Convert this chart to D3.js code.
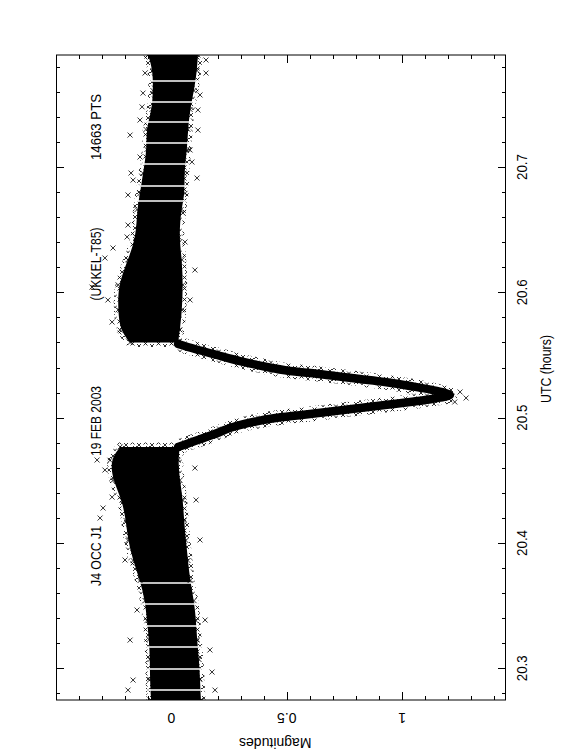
<!DOCTYPE html>
<html>
<head>
<meta charset="utf-8">
<script src="https://cdn.jsdelivr.net/npm/d3@7"></script>
<style>
  body { margin: 0; background: #fff; }
  text { font-family: "Liberation Sans", Arial, sans-serif; fill: #000; }
</style>
</head>
<body>
<svg id="lightcurve"></svg>
<script>
var W = 562, H = 756;
var frame = {left: 56, right: 506, top: 55, bottom: 700};

// chart text
var titleParts = ["J4 OCC J1", "19 FEB 2003", "(UKKEL-T85)", "14663 PTS"];
var utcLabel = "UTC (hours)", magLabel = "Magnitudes";
var utcTicks = [20.3, 20.4, 20.5, 20.6, 20.7];
var utcTickLabels = ["20.3", "20.4", "20.5", "20.6", "20.7"];
var magTicks = [0, 0.5, 1];
var magTickLabels = ["0", "0.5", "1"];
var utcDomain = [20.2747, 20.7894];
var magDomain = [-0.5, 1.45];

// dense cloud before the event: [utc, mag low edge, mag high edge]
var bandBefore = [
  [20.2747, -0.088, 0.128], [20.291, -0.093, 0.124], [20.307, -0.093, 0.120],
  [20.323, -0.097, 0.111], [20.338, -0.106, 0.107], [20.354, -0.114, 0.098],
  [20.370, -0.136, 0.081], [20.386, -0.166, 0.072], [20.402, -0.188, 0.063],
  [20.418, -0.197, 0.055], [20.434, -0.214, 0.050], [20.450, -0.253, 0.037],
  [20.466, -0.266, 0.029], [20.4766, -0.222, 0.037]
];
// dense cloud after the event
var bandAfter = [
  [20.560, -0.179, 0.029], [20.570, -0.223, 0.037], [20.586, -0.231, 0.046],
  [20.606, -0.231, 0.050], [20.626, -0.188, 0.046], [20.644, -0.153, 0.033],
  [20.666, -0.149, 0.042], [20.679, -0.136, 0.059], [20.695, -0.123, 0.055],
  [20.714, -0.106, 0.068], [20.730, -0.110, 0.072], [20.746, -0.084, 0.081],
  [20.761, -0.080, 0.098], [20.777, -0.080, 0.111], [20.7894, -0.101, 0.115]
];
// the occultation dip, ingress then egress: [utc, mag]
var dip = [
  [20.4766, 0.029], [20.4814, 0.102], [20.4861, 0.176], [20.4925, 0.267],
  [20.4973, 0.375], [20.5005, 0.484], [20.5029, 0.601], [20.5053, 0.709],
  [20.5077, 0.817], [20.5101, 0.925], [20.5125, 1.034], [20.5149, 1.129],
  [20.5181, 1.207],
  [20.5221, 1.129], [20.5253, 1.034], [20.5284, 0.925], [20.5308, 0.817],
  [20.5332, 0.709], [20.5356, 0.601], [20.5372, 0.514], [20.5404, 0.414],
  [20.5452, 0.297], [20.5500, 0.198], [20.5548, 0.102], [20.5588, 0.029]
];
// scattered points off the dense cloud: [utc, mag]
var outliers = [
  [20.7854, 0.150], [20.775, 0.150], [20.775, -0.114], [20.759, -0.123],
  [20.7575, 0.124], [20.748, -0.127], [20.7455, 0.115], [20.7375, -0.136],
  [20.7295, 0.115], [20.7255, -0.179], [20.7136, 0.081], [20.704, 0.089],
  [20.708, -0.136], [20.6952, -0.175], [20.6896, -0.166], [20.6912, 0.111],
  [20.6777, -0.188], [20.6633, 0.050], [20.6537, -0.188], [20.6442, -0.192],
  [20.6402, 0.059], [20.6354, -0.253], [20.6042, -0.344], [20.6274, -0.288],
  [20.5939, -0.275], [20.5763, -0.257], [20.6178, 0.102], [20.5939, 0.081],
  [20.5157, 1.277], [20.5205, 1.251], [20.5125, 1.228],
  [20.4199, -0.309], [20.4279, -0.296], [20.4366, -0.257], [20.4662, -0.322],
  [20.4582, -0.288], [20.4598, 0.102], [20.4343, 0.107], [20.3864, -0.201],
  [20.4024, 0.124], [20.3385, 0.146], [20.3146, 0.167], [20.3225, -0.179],
  [20.2826, -0.188], [20.2826, 0.189], [20.2970, 0.176], [20.3465, -0.149],
  [20.2906, -0.166]
];
// short breaks in the recording (white lines through the cloud)
var gaps = [20.7687, 20.7519, 20.7359, 20.7192, 20.7024, 20.6849, 20.6729,
            20.3680, 20.3513, 20.3337, 20.3169, 20.2994, 20.2826];

var svg = d3.select("#lightcurve")
    .attr("width", W)
    .attr("height", H);

svg.append("rect").attr("width", W).attr("height", H).attr("fill", "#fff");

var defs = svg.append("defs");
defs.append("clipPath").attr("id", "plot-clip")
  .append("rect")
    .attr("x", frame.left).attr("y", frame.top)
    .attr("width", frame.right - frame.left)
    .attr("height", frame.bottom - frame.top);

// ragged edge texture: a tile of small crosses used to stroke the cloud outlines
var pat = defs.append("pattern")
    .attr("id", "fuzz")
    .attr("patternUnits", "userSpaceOnUse")
    .attr("width", 13).attr("height", 11);
[[0.5, 0.5], [7, 3], [3, 6], [9, 8.5]].forEach(function(p) {
  pat.append("path")
    .attr("d", "M" + p[0] + "," + p[1] + "l4,4m0,-4l-4,4")
    .attr("fill", "none")
    .attr("stroke", "#000")
    .attr("stroke-width", 0.8);
});

// magnitudes run left to right, UTC runs bottom to top
var x = d3.scaleLinear().domain(magDomain).range([frame.left, frame.right]);
var y = d3.scaleLinear().domain(utcDomain).range([frame.bottom, frame.top]);

var plot = svg.append("g").attr("clip-path", "url(#plot-clip)");

var cloud = d3.area()
    .y(function(d) { return y(d[0]); })
    .x0(function(d) { return x(d[1]); })
    .x1(function(d) { return x(d[2]); })
    .curve(d3.curveBasis);

var dipLine = d3.line()
    .x(function(d) { return x(d[1]); })
    .y(function(d) { return y(d[0]); })
    .curve(d3.curveCatmullRom);

[bandBefore, bandAfter].forEach(function(band) {
  plot.append("path")
    .datum(band)
    .attr("fill", "#000")
    .attr("stroke", "url(#fuzz)")
    .attr("stroke-width", 9)
    .attr("d", cloud);
});

plot.append("path")
  .datum(dip)
  .attr("fill", "none")
  .attr("stroke", "url(#fuzz)")
  .attr("stroke-width", 15)
  .attr("stroke-linejoin", "round")
  .attr("d", dipLine);

plot.append("path")
  .datum(dip)
  .attr("fill", "none")
  .attr("stroke", "#000")
  .attr("stroke-width", 8.5)
  .attr("stroke-linejoin", "round")
  .attr("stroke-linecap", "round")
  .attr("d", dipLine);

// data gaps
plot.selectAll(".gap")
  .data(gaps)
  .enter().append("line")
    .attr("class", "gap")
    .attr("x1", frame.left + 1).attr("x2", frame.right - 1)
    .attr("y1", function(d) { return y(d); })
    .attr("y2", function(d) { return y(d); })
    .attr("stroke", "#fff")
    .attr("stroke-width", 1.5);

// crosses on the cloud edges and the strays
var cross = "M-2.5,-2.5L2.5,2.5M-2.5,2.5L2.5,-2.5";
var edgePts = [];
[bandBefore, bandAfter].forEach(function(band) {
  band.forEach(function(d) {
    edgePts.push([d[0], d[1]]);
    edgePts.push([d[0], d[2]]);
  });
});
plot.selectAll(".pt")
  .data(edgePts.concat(outliers))
  .enter().append("path")
    .attr("class", "pt")
    .attr("transform", function(d) { return "translate(" + x(d[1]) + "," + y(d[0]) + ")"; })
    .attr("d", cross)
    .attr("fill", "none")
    .attr("stroke", "#000")
    .attr("stroke-width", 0.8);

// frame
var axes = svg.append("g").attr("stroke", "#000").attr("stroke-width", 1);
axes.append("line").attr("x1", frame.left + 0.5).attr("x2", frame.left + 0.5).attr("y1", frame.top).attr("y2", frame.bottom);
axes.append("line").attr("x1", frame.right - 0.5).attr("x2", frame.right - 0.5).attr("y1", frame.top).attr("y2", frame.bottom);
axes.append("line").attr("x1", frame.left).attr("x2", frame.right).attr("y1", frame.top).attr("y2", frame.top);
axes.append("line").attr("x1", frame.left).attr("x2", frame.right).attr("y1", frame.bottom).attr("y2", frame.bottom);

// ticks, pointing inward on all four sides
var magMinor = x.ticks(20).filter(function(v) { return v > magDomain[0] + 1e-6; });
var utcMinor = y.ticks(25);
function isMajor(v, list) {
  return list.some(function(t) { return Math.abs(t - v) < 1e-6; });
}
magMinor.forEach(function(v) {
  var len = isMajor(v, magTicks) ? 8 : 4;
  var px = Math.round(x(v)) + 0.5;
  axes.append("line").attr("x1", px).attr("x2", px).attr("y1", frame.bottom).attr("y2", frame.bottom - len);
  axes.append("line").attr("x1", px).attr("x2", px).attr("y1", frame.top).attr("y2", frame.top + len);
});
utcMinor.forEach(function(v) {
  var len = isMajor(v, utcTicks) ? 8 : 4;
  var py = Math.round(y(v)) + 0.5;
  axes.append("line").attr("x1", frame.left).attr("x2", frame.left + len).attr("y1", py).attr("y2", py);
  axes.append("line").attr("x1", frame.right).attr("x2", frame.right - len).attr("y1", py).attr("y2", py);
});

// labels: UTC ones read bottom to top, magnitude ones are upside down
var fs = 14;
svg.selectAll(".utc-label")
  .data(utcTicks)
  .enter().append("text")
    .attr("class", "utc-label")
    .attr("transform", function(d) { return "translate(527," + y(d) + ") rotate(-90)"; })
    .attr("text-anchor", "middle")
    .attr("font-size", fs)
    .attr("textLength", 26)
    .attr("lengthAdjust", "spacingAndGlyphs")
    .text(function(d, i) { return utcTickLabels[i]; });

svg.append("text")
  .attr("transform", "translate(551,369) rotate(-90)")
  .attr("text-anchor", "middle")
  .attr("font-size", fs)
  .attr("textLength", 68)
  .attr("lengthAdjust", "spacingAndGlyphs")
  .text(utcLabel);

svg.selectAll(".mag-label")
  .data(magTicks)
  .enter().append("text")
    .attr("class", "mag-label")
    .attr("transform", function(d) { return "translate(" + x(d) + ",713) rotate(180)"; })
    .attr("text-anchor", "middle")
    .attr("font-size", fs)
    .text(function(d, i) { return magTickLabels[i]; });

svg.append("text")
  .attr("transform", "translate(" + x(0.45) + ",738) rotate(180)")
  .attr("text-anchor", "middle")
  .attr("font-size", fs)
  .text(magLabel);

// title along the left edge, inside the frame
var titlePos = [556, 421, 264, 127];
var titleLen = [60, 70, 73, 66];
svg.selectAll(".title")
  .data(titleParts)
  .enter().append("text")
    .attr("class", "title")
    .attr("transform", function(d, i) { return "translate(101," + titlePos[i] + ") rotate(-90)"; })
    .attr("text-anchor", "middle")
    .attr("font-size", fs)
    .attr("textLength", function(d, i) { return titleLen[i]; })
    .attr("lengthAdjust", "spacingAndGlyphs")
    .text(function(d) { return d; });
</script>
</body>
</html>
